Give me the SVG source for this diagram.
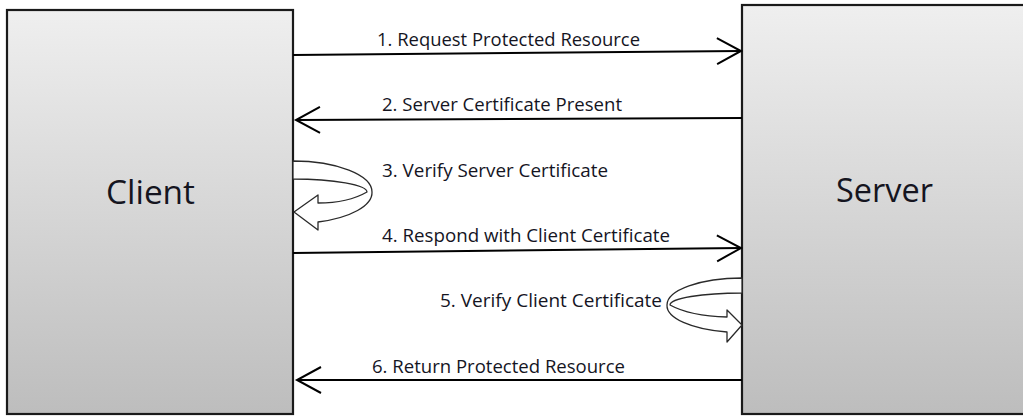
<svg xmlns="http://www.w3.org/2000/svg" width="1023" height="416" viewBox="0 0 1023 416">
  <defs>
    <linearGradient id="boxGrad" x1="0" y1="0" x2="0" y2="1">
      <stop offset="0" stop-color="#efefef"/>
      <stop offset="1" stop-color="#bdbdbd"/>
    </linearGradient>
    <marker id="vhead" markerUnits="userSpaceOnUse" markerWidth="30" markerHeight="30" viewBox="-26 -15 30 30" refX="0" refY="0" orient="auto">
      <path d="M-24,-13 L0,0 L-24,13" fill="none" stroke="#000" stroke-width="2"/>
    </marker>
  </defs>
  <style>
    .box { fill: url(#boxGrad); stroke: #1a1a1a; stroke-width: 2.2; }
    .big { font-family: "Open Sans", "Liberation Sans", sans-serif; font-size: 33px; fill: #15151f; }
    .lbl { font-family: "Open Sans", "Liberation Sans", sans-serif; font-size: 18px; fill: #15151f; }
    .msg { fill: none; stroke: #000; stroke-width: 2; marker-end: url(#vhead); }
    .loop { fill: #fff; stroke: #2a2a2a; stroke-width: 1.3; stroke-linejoin: round; }
  </style>
  <rect width="1023" height="416" fill="#fff"/>

  <g id="client">
    <rect class="box" x="7" y="10" width="286" height="404"/>
    <text class="big" x="106" y="204" textLength="89" lengthAdjust="spacingAndGlyphs">Client</text>
  </g>

  <g id="server">
    <rect class="box" x="742" y="5" width="300" height="409"/>
    <text class="big" x="836" y="202" textLength="97" lengthAdjust="spacingAndGlyphs">Server</text>
  </g>

  <g id="connectors">
    <path class="msg" d="M293,55 L741,51"/>
    <path class="msg" d="M742,118 L296,120"/>
    <path class="loop" d="M293,161 A79,31 0 0,1 372,192 A79,31 0 0,1 318,222 L318,230 L294,212 L318,195 L318,203 Q348,203 367,192 A74,13 0 0,0 293,179 Z"/>
    <path class="msg" d="M293,253 L741,248"/>
    <path class="loop" d="M742,278 A75,27 0 0,0 667,305 A75,27 0 0,0 727,332 L727,342 L742,325 L727,310 L727,317 Q690,316 670,305 A72,12 0 0,1 742,293 Z"/>
    <path class="msg" d="M742,380 L297,380"/>
  </g>

  <g id="labels">
    <text class="lbl" x="377" y="46" textLength="263" lengthAdjust="spacingAndGlyphs">1. Request Protected Resource</text>
    <text class="lbl" x="382" y="111" textLength="240" lengthAdjust="spacingAndGlyphs">2. Server Certificate Present</text>
    <text class="lbl" x="382" y="177" textLength="226" lengthAdjust="spacingAndGlyphs">3. Verify Server Certificate</text>
    <text class="lbl" x="382" y="242" textLength="288" lengthAdjust="spacingAndGlyphs">4. Respond with Client Certificate</text>
    <text class="lbl" x="440" y="307" textLength="222" lengthAdjust="spacingAndGlyphs">5. Verify Client Certificate</text>
    <text class="lbl" x="372" y="373" textLength="253" lengthAdjust="spacingAndGlyphs">6. Return Protected Resource</text>
  </g>
</svg>
